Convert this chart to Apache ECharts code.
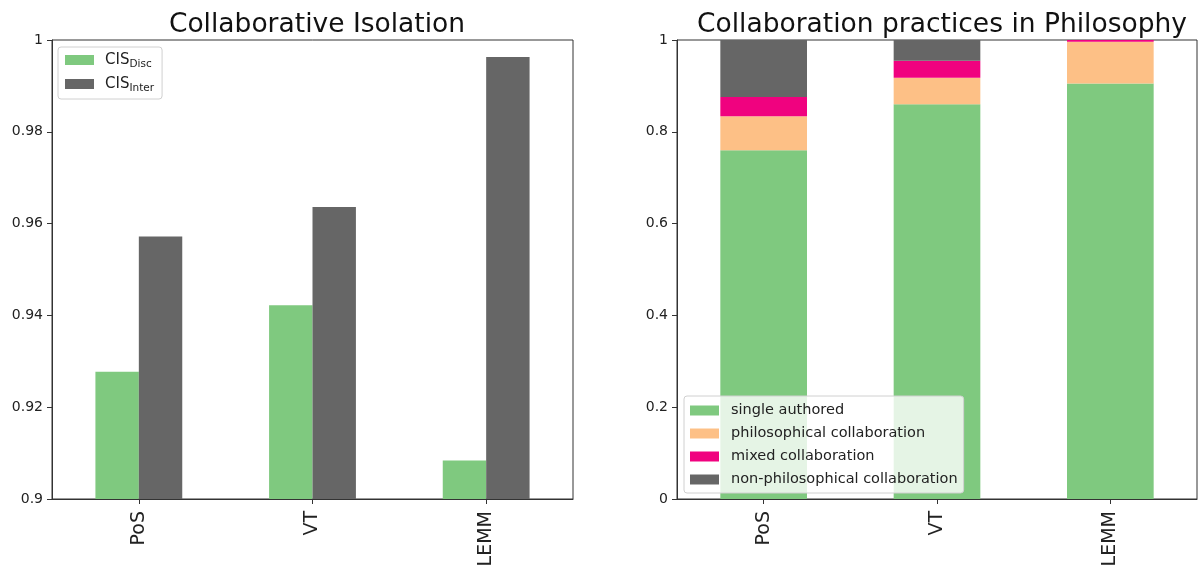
<!DOCTYPE html>
<html>
<head>
<meta charset="utf-8">
<script src="https://cdn.jsdelivr.net/npm/echarts@6/dist/echarts.min.js"></script>
<style>
html,body{margin:0;padding:0;background:#fff;}
#c{width:1198px;height:566px;}
</style>
</head>
<body>
<div id="c"></div>
<script>
const categories = ['PoS', 'VT', 'LEMM'];
const cisDisc = [0.9277, 0.9422, 0.9084];
const cisInter = [0.9572, 0.9636, 0.9963];
const singleAuthored = [0.760, 0.860, 0.905];
const philosophicalCollab = [0.074, 0.058, 0.091];
const mixedCollab = [0.042, 0.037, 0.004];
const nonPhilosophicalCollab = [0.124, 0.045, 0.000];
const leftTicks = [0.9, 0.92, 0.94, 0.96, 0.98, 1];
const rightTicks = [0, 0.2, 0.4, 0.6, 0.8, 1];

const FONT = 'DejaVu Sans';
const C = { green: '#7fc97f', orange: '#fdc086', pink: '#f0027f', grey: '#666666' };

const chart = echarts.init(document.getElementById('c'), null, { renderer: 'canvas' });

function fmtTick(v) {
  return String(parseFloat(v.toFixed(4)));
}

const xAxisCommon = {
  type: 'category',
  data: categories,
  axisLine: { show: true, lineStyle: { color: '#333', width: 1 } },
  axisTick: { show: true, alignWithLabel: true, length: 5, lineStyle: { color: '#333' } },
  axisLabel: { rotate: 90, fontSize: 19, color: '#222', fontFamily: FONT, margin: 12 },
  splitLine: { show: false }
};
const yAxisCommon = {
  type: 'value',
  axisLine: { show: true, lineStyle: { color: '#333', width: 1 } },
  axisTick: { show: true, length: 5, lineStyle: { color: '#333' } },
  axisLabel: { fontSize: 14, color: '#222', fontFamily: FONT, margin: 9, formatter: fmtTick },
  splitLine: { show: false }
};

const option = {
  backgroundColor: '#fff',
  animation: false,
  title: [
    { text: 'Collaborative Isolation', left: 312, top: 7, textAlign: 'center',
      textStyle: { fontSize: 26.5, fontWeight: 'normal', color: '#111', fontFamily: FONT } },
    { text: 'Collaboration practices in Philosophy', left: 937, top: 7, textAlign: 'center',
      textStyle: { fontSize: 26.5, fontWeight: 'normal', color: '#111', fontFamily: FONT } }
  ],
  grid: [
    { left: 52, right: 625, top: 40, bottom: 67, containLabel: false, outerBoundsMode: 'none',
      show: true, borderColor: '#333', borderWidth: 1, backgroundColor: 'transparent' },
    { left: 677, right: 1, top: 40, bottom: 67, containLabel: false, outerBoundsMode: 'none',
      show: true, borderColor: '#333', borderWidth: 1, backgroundColor: 'transparent' }
  ],
  xAxis: [
    Object.assign({}, xAxisCommon, { gridIndex: 0 }),
    Object.assign({}, xAxisCommon, { gridIndex: 1 })
  ],
  yAxis: [
    Object.assign({}, yAxisCommon, { gridIndex: 0, min: leftTicks[0], max: leftTicks[leftTicks.length - 1], interval: 0.02 }),
    Object.assign({}, yAxisCommon, { gridIndex: 1, min: rightTicks[0], max: rightTicks[rightTicks.length - 1], interval: 0.2 })
  ],
  legend: [
    {
      data: ['CIS_Disc', 'CIS_Inter'],
      left: 58, top: 47, orient: 'vertical',
      itemWidth: 29, itemHeight: 10, itemGap: 6,
      padding: [5, 8, 5, 7],
      backgroundColor: 'rgba(255,255,255,0.8)', borderColor: '#d0d0d0', borderWidth: 1, borderRadius: 3,
      icon: 'rect',
      formatter: function (name) {
        return name === 'CIS_Disc' ? '{m|CIS}{s|Disc}' : '{m|CIS}{s|Inter}';
      },
      textStyle: {
        fontFamily: FONT, color: '#222', padding: [0, 0, 0, 6],
        rich: {
          m: { fontSize: 15, fontFamily: FONT, color: '#222', lineHeight: 20, verticalAlign: 'middle' },
          s: { fontSize: 10.5, fontFamily: FONT, color: '#222', lineHeight: 20, verticalAlign: 'bottom', padding: [7, 0, 0, 0] }
        }
      },
      selectedMode: false
    },
    {
      data: ['single authored', 'philosophical collaboration', 'mixed collaboration', 'non-philosophical collaboration'],
      left: 684, top: 396, orient: 'vertical',
      itemWidth: 29, itemHeight: 10, itemGap: 6,
      padding: [6, 6, 5, 6],
      backgroundColor: 'rgba(255,255,255,0.8)', borderColor: '#d0d0d0', borderWidth: 1, borderRadius: 3,
      icon: 'rect',
      textStyle: { fontSize: 14.5, fontFamily: FONT, color: '#222', lineHeight: 17, padding: [0, 0, 0, 7] },
      selectedMode: false
    }
  ],
  series: [
    { name: 'CIS_Disc', type: 'bar', xAxisIndex: 0, yAxisIndex: 0, data: cisDisc,
      itemStyle: { color: C.green }, barGap: '0%', barCategoryGap: '50%' },
    { name: 'CIS_Inter', type: 'bar', xAxisIndex: 0, yAxisIndex: 0, data: cisInter,
      itemStyle: { color: C.grey }, barGap: '0%', barCategoryGap: '50%' },
    { name: 'single authored', type: 'bar', stack: 'p', xAxisIndex: 1, yAxisIndex: 1, data: singleAuthored,
      itemStyle: { color: C.green }, barWidth: '50%' },
    { name: 'philosophical collaboration', type: 'bar', stack: 'p', xAxisIndex: 1, yAxisIndex: 1, data: philosophicalCollab,
      itemStyle: { color: C.orange }, barWidth: '50%' },
    { name: 'mixed collaboration', type: 'bar', stack: 'p', xAxisIndex: 1, yAxisIndex: 1, data: mixedCollab,
      itemStyle: { color: C.pink }, barWidth: '50%' },
    { name: 'non-philosophical collaboration', type: 'bar', stack: 'p', xAxisIndex: 1, yAxisIndex: 1, data: nonPhilosophicalCollab,
      itemStyle: { color: C.grey }, barWidth: '50%' }
  ]
};
chart.setOption(option);
</script>
</body>
</html>
